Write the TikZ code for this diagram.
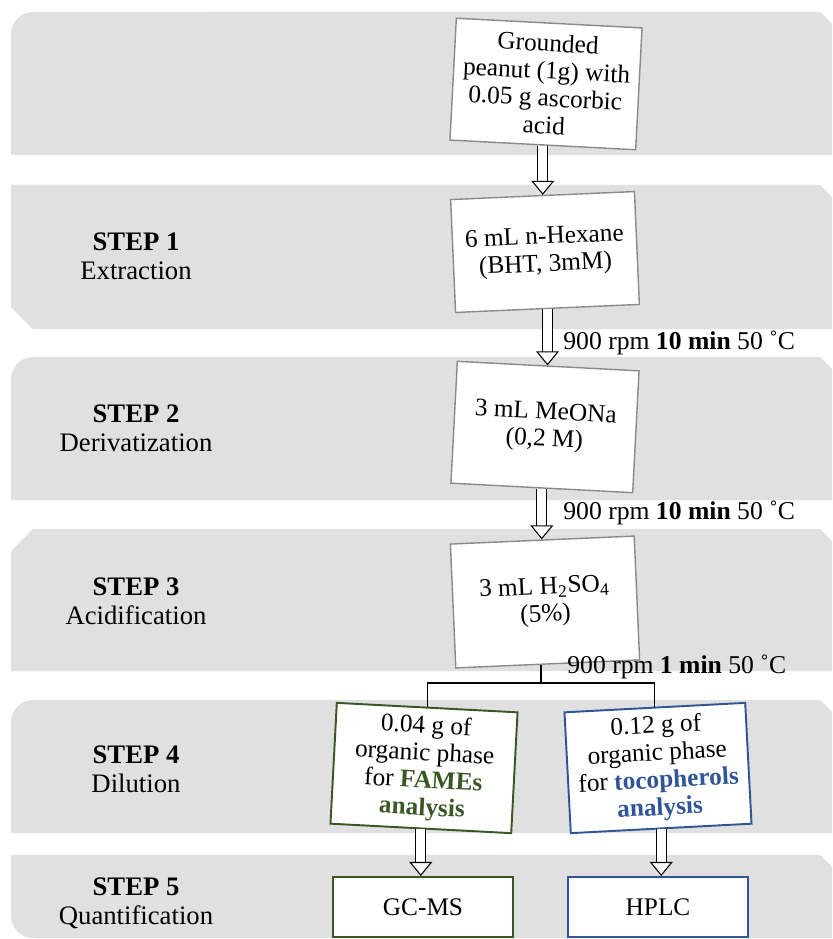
\documentclass[tikz,border=0pt]{standalone}
\usepackage{fontspec}
\setmainfont{Liberation Serif}
\usetikzlibrary{arrows.meta}

\definecolor{bandgray}{HTML}{E0E0E0}
\definecolor{boxgray}{HTML}{8A8A8A}
\definecolor{famegreen}{HTML}{385723}
\definecolor{tocoblue}{HTML}{2F5597}

\tikzset{
  band/.style={fill=bandgray},
  stepbox/.style={draw=boxgray, line width=0.8pt, fill=white, align=center,
    inner sep=2pt, font=\fontsize{14.4}{15.6}\selectfont},
  greenbox/.style={stepbox, draw=famegreen, line width=1.1pt},
  bluebox/.style={stepbox, draw=tocoblue, line width=1.1pt},
  steplabel/.style={align=center, font=\fontsize{15.2}{16.4}\selectfont},
  cond/.style={anchor=west, inner sep=0pt, font=\fontsize{14.6}{14.6}\selectfont},
  hollow/.style={double=white, double distance=5pt, line width=0.6pt,
    -{Triangle[open, length=8pt, width=13pt, fill=white]}},
  fork/.style={line width=0.6pt}
}

\begin{document}
\begin{tikzpicture}[x=0.02cm, y=-0.02cm]
\useasboundingbox (0,0) rectangle (832,939);
\clip (0,0) rectangle (832,939);

% bands
\fill[band] (11,155) -- (11,34) arc[start angle=180, end angle=90, radius=0.44cm]
  -- (820,12) -- (842,34) -- (842,155) -- cycle;
\fill[band] (11,185) -- (820,185) -- (842,207) -- (842,329) -- (33,329) -- (11,307) -- cycle;
\fill[band] (11,500) -- (11,379) arc[start angle=180, end angle=90, radius=0.44cm]
  -- (820,357) -- (842,379) -- (842,500) -- cycle;
\fill[band] (11,671) -- (11,551) -- (33,529) -- (820,529) -- (842,551) -- (842,671) -- cycle;
\fill[band] (11,833) -- (11,722) arc[start angle=180, end angle=90, radius=0.44cm]
  -- (820,700) -- (842,722) -- (842,833) -- cycle;
\fill[band] (33,938) arc[start angle=270, end angle=180, radius=0.44cm]
  -- (11,855) -- (820,855) -- (842,877) -- (842,938) -- cycle;

% step labels
\node[steplabel] (s1) at (136,256) {\textbf{STEP 1}\\Extraction};
\node[steplabel] (s2) at (136,428) {\textbf{STEP 2}\\Derivatization};
\node[steplabel] (s3) at (136,601) {\textbf{STEP 3}\\Acidification};
\node[steplabel] (s4) at (136,769) {\textbf{STEP 4}\\Dilution};
\node[steplabel] (s5) at (136,903) {\textbf{STEP 5}\\Quantification};

% boxes
\node[stepbox, minimum width=3.72cm, minimum height=2.44cm, rotate=-3] (peanut) at (546,84)
  {Grounded\\peanut (1g) with\\0.05 g ascorbic\\acid};
\node[stepbox, minimum width=3.68cm, minimum height=2.26cm, rotate=2.5] (hexane) at (545,252)
  {6 mL n-Hexane\\(BHT, 3mM)};
\node[stepbox, minimum width=3.64cm, minimum height=2.44cm, rotate=-3] (meona) at (545,427)
  {3 mL MeONa\\(0,2 M)};
\node[stepbox, minimum width=3.68cm, minimum height=2.48cm, rotate=2.5] (acid) at (545,602)
  {3 mL H\textsubscript{2}SO\textsubscript{4}\\(5\%)};
\node[greenbox, minimum width=3.62cm, minimum height=2.42cm, rotate=-3] (fames) at (424,768)
  {0.04 g of\\organic phase\\for \textcolor{famegreen}{\textbf{FAMEs}}\\\textcolor{famegreen}{\textbf{analysis}}};
\node[bluebox, minimum width=3.62cm, minimum height=2.42cm, rotate=3] (toco) at (658,768)
  {0.12 g of\\organic phase\\for \textcolor{tocoblue}{\textbf{tocopherols}}\\\textcolor{tocoblue}{\textbf{analysis}}};
\node[greenbox, minimum width=3.6cm, minimum height=1.2cm] (gcms) at (423,907) {GC-MS};
\node[bluebox, minimum width=3.6cm, minimum height=1.2cm] (hplc) at (658,907) {HPLC};

% connectors
\draw[hollow] (peanut.south) -- (peanut.south |- hexane.north);
\draw[hollow] (hexane.south) -- (hexane.south |- meona.north);
\draw[hollow] (meona.south) -- (meona.south |- acid.north);
\draw[hollow] (fames.south) -- (fames.south |- gcms.north);
\draw[hollow] (toco.south) -- (toco.south |- hplc.north);

\coordinate (split) at (541,683);
\draw[fork] (acid.south -| split) -- (split) -| (fames.north);
\draw[fork] (split) -| (toco.north);

% conditions
\node[cond] (c1) at (563,343) {900 rpm \textbf{10 min} 50 ˚C};
\node[cond] (c2) at (563,513) {900 rpm \textbf{10 min} 50 ˚C};
\node[cond] (c3) at (567,667) {900 rpm \textbf{1 min} 50 ˚C};
\end{tikzpicture}
\end{document}
